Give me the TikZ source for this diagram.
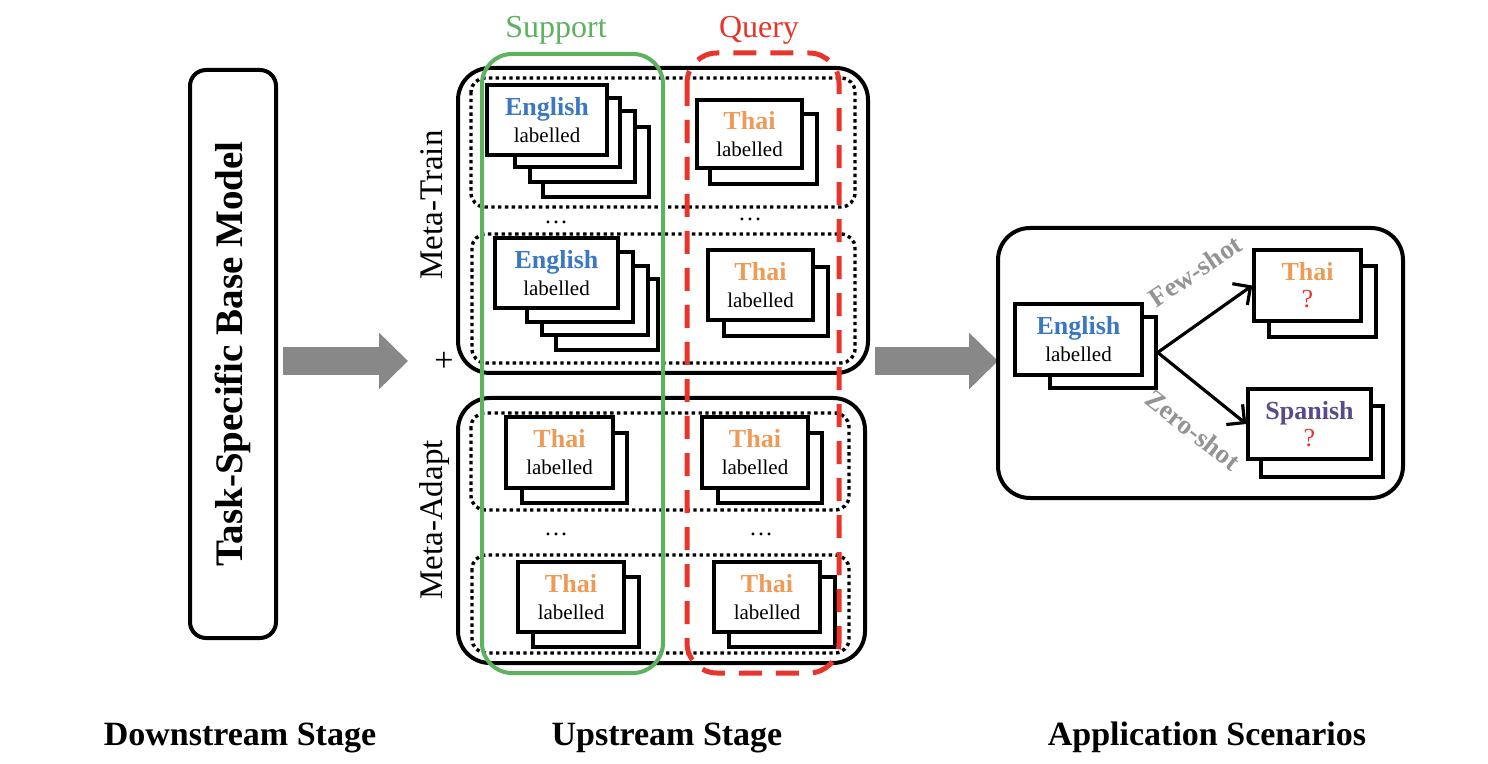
\documentclass[tikz,border=0pt]{standalone}
\usepackage{fontspec}
\setmainfont{Liberation Serif}
\usetikzlibrary{arrows.meta}
\definecolor{engblue}{HTML}{3A78C2}
\definecolor{thaiorange}{HTML}{EE9B58}
\definecolor{spanpurple}{HTML}{5A4A8A}
\definecolor{qred}{HTML}{E8352B}
\definecolor{sgreen}{HTML}{5CB25D}
\definecolor{arrowgray}{HTML}{888888}
\definecolor{labelgray}{HTML}{939393}
\tikzset{
  x=0.5pt, y=-0.5pt,
  bigbox/.style={draw=black, line width=2pt, rounded corners=16pt},
  rowbox/.style={draw=black, line width=1.7pt, dash pattern=on 1.7pt off 1.7pt, rounded corners=7pt},
  backcard/.style={draw=black, fill=white, line width=1.7pt, inner sep=0pt, rectangle},
  frontcard/.style={draw=black, fill=white, line width=1.7pt, inner sep=0pt, rectangle, align=center, font=\fontsize{10.5}{13.5}\selectfont},
  supportbox/.style={draw=sgreen, line width=2pt, rounded corners=15pt},
  querybox/.style={draw=qred, line width=2.5pt, dash pattern=on 11.5pt off 7pt, rounded corners=15pt},
  blockarrow/.style={draw=arrowgray, line width=14pt, -{Triangle[length=14.5pt, width=27.5pt]}},
  apparrow/.style={draw=black, line width=1.6pt, -{Straight Barb[length=6.5pt, width=13pt, line width=1.6pt]}},
  shotlabel/.style={text=labelgray, font=\fontsize{13.5}{16}\selectfont\bfseries},
  stagelabel/.style={font=\fontsize{17}{20}\selectfont\bfseries, anchor=base},
  metalabel/.style={font=\fontsize{16.5}{20}\selectfont, rotate=90},
  dotslabel/.style={font=\fontsize{12}{14}\selectfont, anchor=base},
}
\newcommand\bk[5]{%
  \pgfmathsetmacro\bkw{(#4-#2)/2}\pgfmathsetmacro\bkh{(#5-#3)/2}%
  \node[backcard, minimum width=\bkw pt, minimum height=\bkh pt] (#1) at ({(#2+#4)/2},{(#3+#5)/2}) {};}
\newcommand\fr[6]{%
  \pgfmathsetmacro\bkw{(#4-#2)/2}\pgfmathsetmacro\bkh{(#5-#3)/2}%
  \node[frontcard, minimum width=\bkw pt, minimum height=\bkh pt] (#1) at ({(#2+#4)/2},{(#3+#5)/2}) {#6};}
\newcommand\Eng{{\fontsize{13}{13.5}\selectfont\bfseries\color{engblue}English}\\labelled}
\newcommand\Tha{{\fontsize{13}{13.5}\selectfont\bfseries\color{thaiorange}Thai}\\labelled}
\newcommand\Qm{{\fontsize{13}{13.5}\selectfont\color{qred}?}}
\begin{document}
\begin{tikzpicture}
\useasboundingbox (0,0) rectangle (1488,764);

% Downstream stage
\node[draw=black, line width=2pt, rounded corners=8pt, rotate=90,
      minimum width=284pt, minimum height=43pt, inner sep=0pt,
      font=\fontsize{19.5}{22}\selectfont\bfseries] (task) at (233,354) {Task-Specific Base Model};

\coordinate (a1s) at (283,361);
\coordinate (a1e) at (408,361);
\draw[blockarrow] (a1s) -- (a1e);

\node[font=\fontsize{17}{18}\selectfont] (plus) at (444,362) {+};
\node[metalabel] (mtrain) at (432,205) {Meta-Train};
\node[metalabel] (madapt) at (435,520) {Meta-Adapt};

% Upstream boxes
\draw[bigbox] (458,68) rectangle (868,373);
\draw[bigbox] (458,398) rectangle (865,663);
\draw[rowbox] (471,78) rectangle (855,207);
\draw[rowbox] (472,234) rectangle (855,363);
\draw[rowbox] (471,413) rectangle (849,510);
\draw[rowbox] (472,555) rectangle (849,653);

% Meta-train row 1
\bk{u1eb3}{543}{127}{649}{197}
\bk{u1eb2}{530}{111}{635}{182}
\bk{u1eb1}{515}{98}{620}{167}
\fr{u1e}{487}{85}{607}{155}{\Eng}
\bk{u1tb1}{710}{114}{817}{184}
\fr{u1t}{697}{100}{802}{168}{\Tha}
% Meta-train row 2
\bk{u2eb3}{556}{279}{658}{350}
\bk{u2eb2}{542}{266}{648}{335}
\bk{u2eb1}{527}{252}{633}{322}
\fr{u2e}{495}{238}{618}{308}{\Eng}
\bk{u2tb1}{724}{267}{828}{336}
\fr{u2t}{708}{250}{813}{320}{\Tha}
% Meta-adapt rows
\bk{l1sb}{522}{433}{627}{503}
\fr{l1s}{506}{417}{613}{488}{\Tha}
\bk{l1qb}{718}{433}{822}{503}
\fr{l1q}{702}{417}{808}{488}{\Tha}
\bk{l2sb}{533}{577}{639}{647}
\fr{l2s}{518}{562}{624}{632}{\Tha}
\bk{l2qb}{729}{577}{835}{647}
\fr{l2q}{714}{562}{820}{632}{\Tha}

\node[dotslabel] (d1) at (556,224) {\dots};
\node[dotslabel] (d2) at (750,221) {\dots};
\node[dotslabel] (d3) at (556,535) {\dots};
\node[dotslabel] (d4) at (761,535) {\dots};

% Support / Query
\draw[supportbox] (482,54) rectangle (663,673);
\draw[querybox] (687,53) rectangle (839,673);
\node[text=sgreen, font=\fontsize{16}{18}\selectfont, anchor=base] (suplab) at (556,38) {Support};
\node[text=qred, font=\fontsize{16}{18}\selectfont, anchor=base] (qlab) at (759,38) {Query};

% Arrow to application
\coordinate (a2s) at (875,361);
\coordinate (a2e) at (998,361);
\draw[blockarrow] (a2s) -- (a2e);

% Application scenarios
\draw[bigbox] (998,228) rectangle (1403,498);
\bk{aeb}{1050}{317}{1156}{388}
\fr{ae}{1015}{304}{1142}{375}{\Eng}
\bk{atb}{1269}{266}{1376}{337}
\fr{at}{1254}{250}{1361}{321}{{\fontsize{13}{13.5}\selectfont\bfseries\color{thaiorange}Thai}\\\Qm}
\bk{asb}{1261}{406}{1383}{477}
\fr{as}{1248}{389}{1371}{459}{{\fontsize{13}{13.5}\selectfont\bfseries\color{spanpurple}Spanish}\\\Qm}
\draw[apparrow] (aeb.east) -- (at.west);
\draw[apparrow] (aeb.east) -- (as.west);
\node[shotlabel, rotate=34] (few) at (1195,271) {Few-shot};
\node[shotlabel, rotate=-38] (zero) at (1193,430) {Zero-shot};

% Stage labels
\node[stagelabel] (down) at (240,745) {Downstream Stage};
\node[stagelabel] (up) at (667,745) {Upstream Stage};
\node[stagelabel] (app) at (1207,745) {Application Scenarios};
\end{tikzpicture}
\end{document}
